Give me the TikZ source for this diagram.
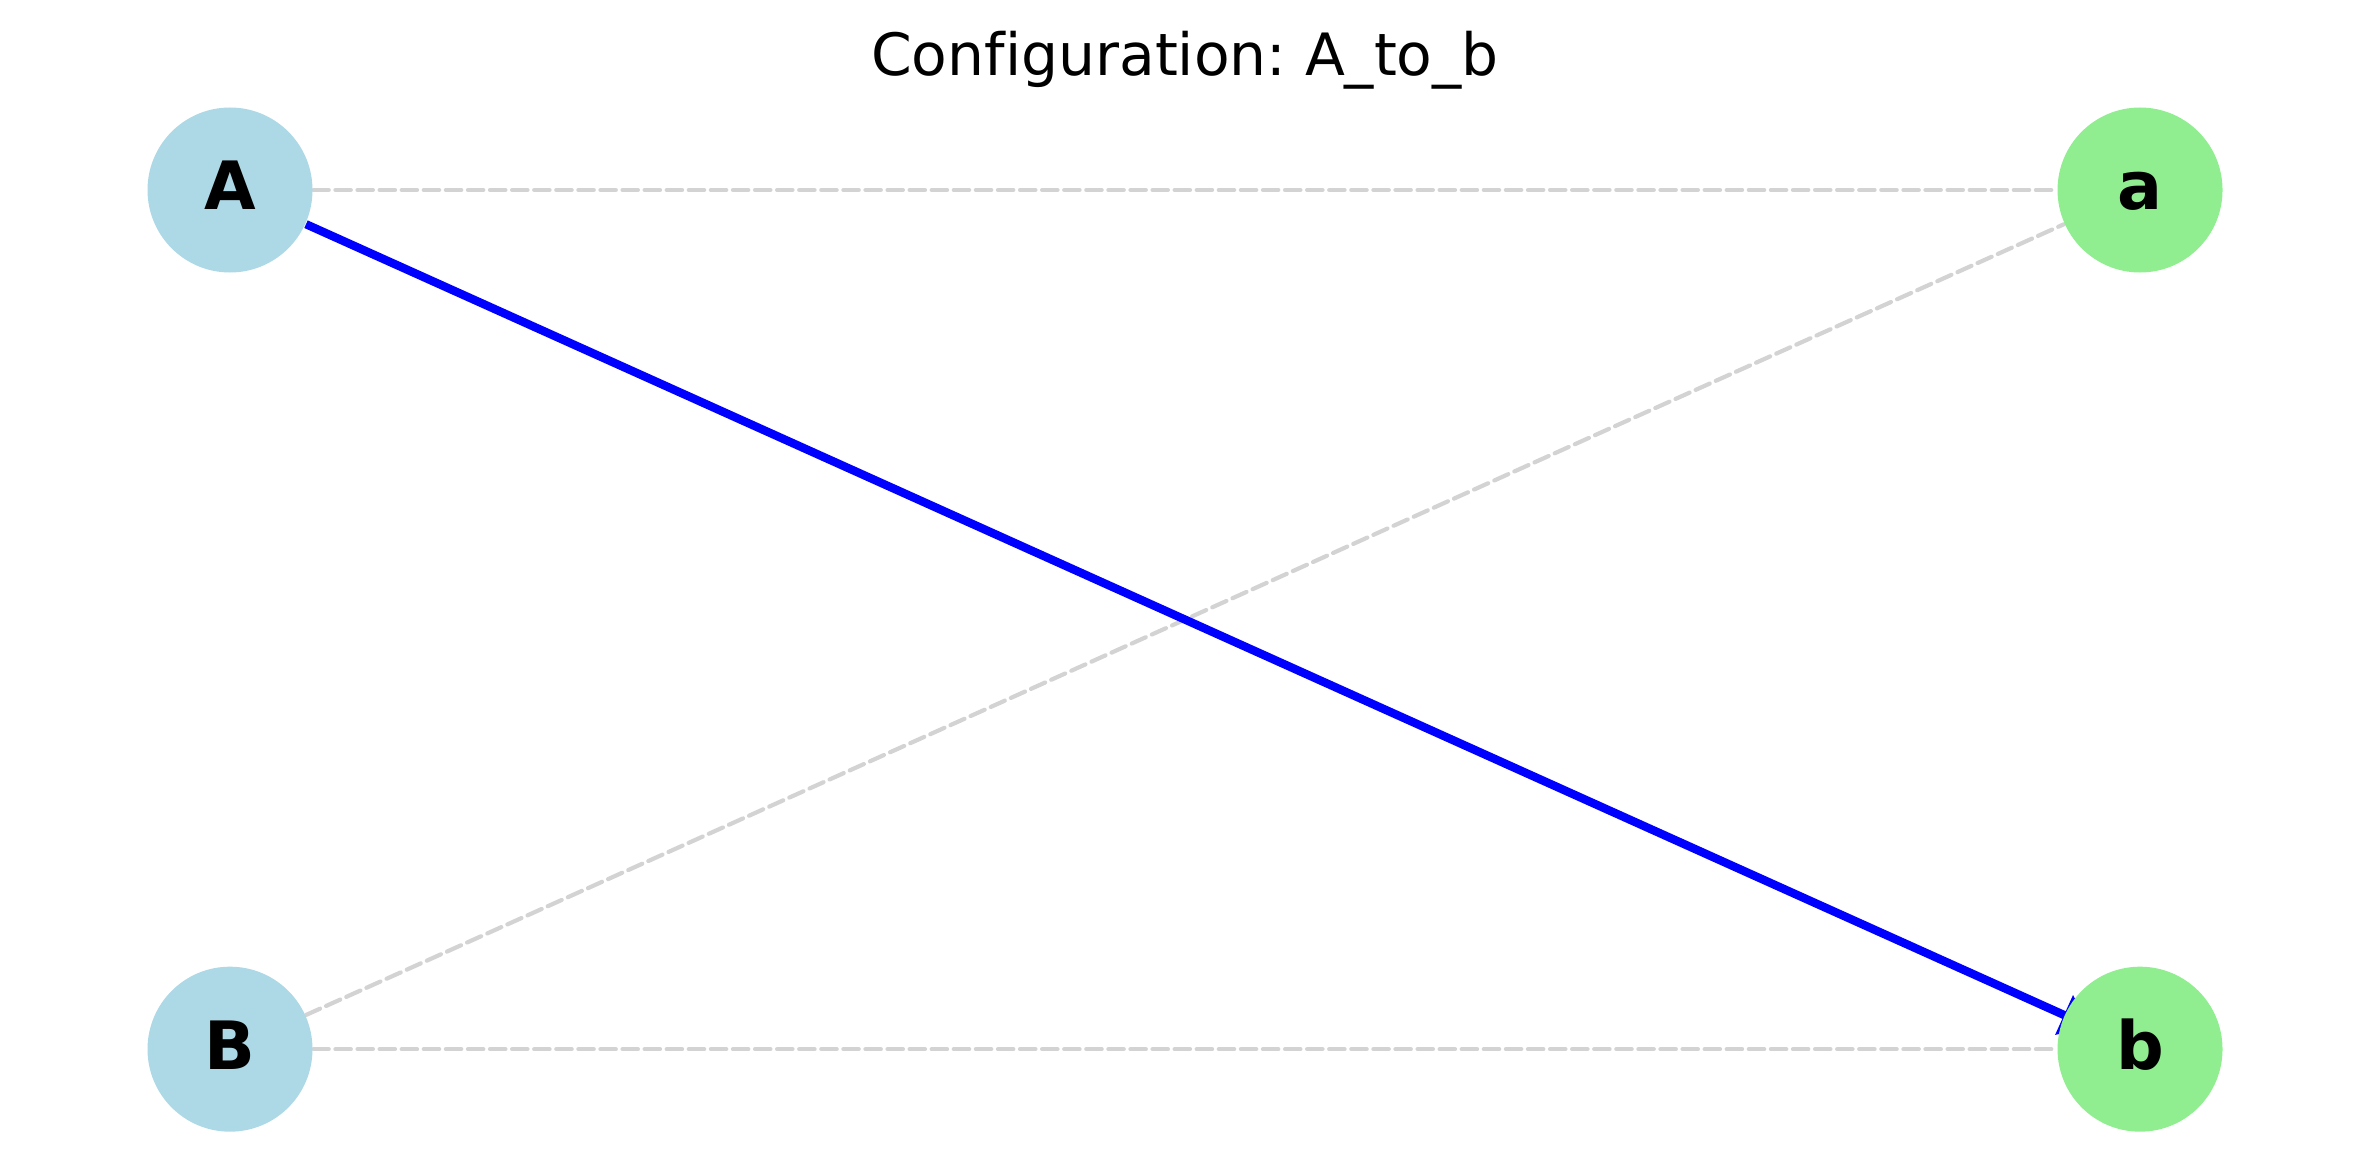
\documentclass[tikz,border=0pt]{standalone}
\usepackage{fontspec}
\setmainfont[Ligatures=NoCommon]{DejaVu Sans}
\frenchspacing
\usetikzlibrary{arrows.meta,backgrounds}
\definecolor{nodeblue}{RGB}{173,216,230}
\definecolor{nodegreen}{RGB}{144,238,144}
\definecolor{edgegray}{RGB}{211,211,211}
\tikzset{
  vert/.style={circle,inner sep=0pt,minimum size=39.6pt,draw=none,
    font=\fontsize{16}{16}\selectfont\bfseries,text height=9.6pt,text depth=0pt},
  left vert/.style={vert,fill=nodeblue},
  right vert/.style={vert,fill=nodegreen},
  idle edge/.style={draw=edgegray,line width=1pt,line cap=round,
    dash pattern=on 3.7pt off 1.6pt},
  chosen edge/.style={draw=blue,line width=2pt,
    -{Triangle[width=10pt,length=7pt]},shorten >=-7pt},
}
\begin{document}
\begin{tikzpicture}[x=1pt,y=-1pt]
\useasboundingbox (0,0) rectangle (568.8,280.8);
\node[font=\fontsize{14}{14}\selectfont,anchor=base] (title) at (284.4,18.2) {Configuration: A\_to\_b};
\node[left vert] (A) at (55.2,45.6) {A};
\node[left vert] (B) at (55.2,251.8) {B};
\node[right vert] (a) at (513.6,45.6) {a};
\node[right vert] (b) at (513.6,251.8) {b};
\begin{pgfonlayer}{background}
\draw[idle edge] (A) -- (a);
\draw[idle edge] (B) -- (a);
\draw[idle edge] (B) -- (b);
\draw[chosen edge] (A) -- (b);
\end{pgfonlayer}
\end{tikzpicture}
\end{document}
